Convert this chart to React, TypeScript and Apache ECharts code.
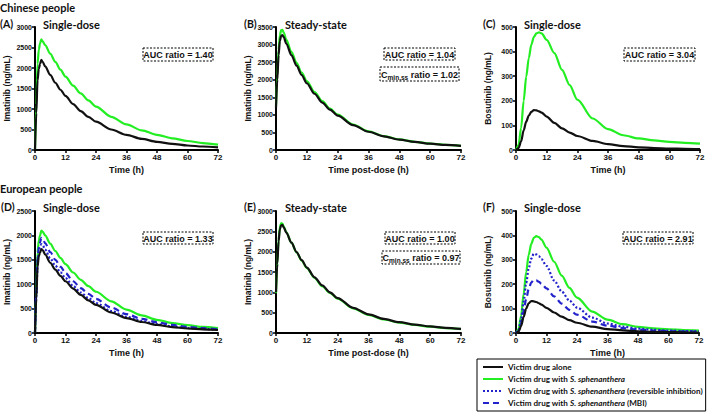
import React, { useEffect, useRef } from "react";
import * as echarts from "echarts";

// ---- data ----
const T_IMA = [0, 0.5, 1, 1.5, 2, 2.5, 3, 4, 6, 8, 10, 12, 15, 18, 21, 24, 30, 36, 42, 48, 54, 60, 66, 72];
const T_BOS = [0, 1, 2, 3, 4, 5, 6, 7, 8, 9, 10, 12, 15, 18, 21, 24, 30, 36, 42, 48, 54, 60, 66, 72];
const X_TICKS = [0, 12, 24, 36, 48, 60, 72];

const S_ALONE = "Victim drug alone";
const S_WITH = "Victim drug with S. sphenanthera";
const S_REV = "Victim drug with S. sphenanthera (reversible inhibition)";
const S_MBI = "Victim drug with S. sphenanthera (MBI)";

// (A) Chinese, imatinib single-dose
const A_with = [0, 1100, 2100, 2450, 2600, 2700, 2650, 2560, 2350, 2150, 1960, 1790, 1570, 1380, 1210, 1060, 810, 625, 480, 370, 285, 220, 170, 130];
const A_alone = [0, 900, 1700, 1980, 2100, 2200, 2150, 2040, 1830, 1640, 1470, 1320, 1120, 950, 810, 690, 500, 370, 270, 200, 150, 110, 85, 65];
// (B) Chinese, imatinib steady-state
const B_with = [1250, 2100, 2850, 3260, 3410, 3420, 3340, 3140, 2790, 2480, 2200, 1960, 1650, 1390, 1180, 1005, 725, 530, 395, 300, 233, 183, 147, 117];
const B_alone = [1200, 2000, 2700, 3100, 3250, 3270, 3210, 3030, 2700, 2400, 2130, 1900, 1600, 1350, 1150, 980, 710, 520, 390, 295, 230, 180, 145, 115];
// (C) Chinese, bosutinib single-dose
const C_with = [0, 20, 90, 200, 298, 373, 428, 460, 474, 478, 474, 448, 394, 326, 264, 205, 128, 85, 60, 47, 39, 33, 29, 26];
const C_alone = [0, 8, 35, 80, 115, 140, 155, 162, 161, 157, 152, 136, 110, 88, 71, 57, 37, 24, 16, 11, 8, 6, 5, 4];
// (D) European, imatinib single-dose
const D_with = [0, 850, 1650, 1900, 2000, 2100, 2080, 2000, 1830, 1680, 1540, 1410, 1240, 1090, 960, 845, 650, 480, 360, 270, 205, 160, 125, 100];
const D_rev = [0, 740, 1430, 1670, 1750, 1820, 1800, 1710, 1530, 1380, 1245, 1125, 965, 830, 715, 615, 450, 330, 245, 180, 135, 102, 82, 68];
const D_mbi = [0, 790, 1520, 1760, 1860, 1950, 1930, 1840, 1660, 1500, 1360, 1230, 1060, 920, 800, 700, 520, 385, 290, 220, 165, 125, 100, 80];
const D_alone = [0, 700, 1350, 1580, 1650, 1720, 1700, 1610, 1440, 1300, 1170, 1060, 910, 780, 670, 576, 420, 305, 225, 165, 122, 92, 75, 62];
// (E) European, imatinib steady-state
const E_with = [980, 1720, 2290, 2600, 2700, 2690, 2620, 2480, 2220, 1985, 1780, 1595, 1355, 1150, 985, 845, 605, 445, 332, 255, 198, 155, 122, 95];
const E_alone = [1000, 1700, 2250, 2550, 2650, 2660, 2600, 2470, 2220, 1990, 1790, 1610, 1370, 1170, 1000, 860, 620, 460, 345, 265, 205, 162, 128, 100];
// (F) European, bosutinib single-dose
const F_with = [0, 15, 70, 160, 250, 320, 365, 390, 397, 393, 383, 350, 292, 235, 185, 145, 88, 55, 36, 25, 19, 15, 12, 10];
const F_rev = [0, 12, 55, 130, 205, 265, 305, 325, 322, 315, 303, 275, 215, 170, 133, 104, 63, 39, 26, 18, 13, 10, 8, 7];
const F_mbi = [0, 8, 38, 90, 140, 180, 207, 218, 216, 210, 202, 183, 150, 120, 95, 75, 47, 30, 20, 14, 10, 8, 6, 5];
const F_alone = [0, 6, 28, 65, 100, 122, 131, 130, 127, 122, 116, 103, 84, 67, 53, 42, 26, 16, 11, 7, 5, 4, 3, 2];

const Y_MAX = [3000, 3500, 500, 2500, 3000, 500];
const Y_STEP = [500, 500, 100, 500, 500, 100];
const Y_NAMES = ["Imatinib (ng/mL)", "Imatinib (ng/mL)", "Bosutinib (ng/mL)", "Imatinib (ng/mL)", "Imatinib (ng/mL)", "Bosutinib (ng/mL)"];
const X_NAMES = ["Time (h)", "Time post-dose (h)", "Time (h)", "Time (h)", "Time post-dose (h)", "Time (h)"];
const PANEL_LETTERS = ["(A)", "(B)", "(C)", "(D)", "(E)", "(F)"];
const PANEL_TITLES = ["Single-dose", "Steady-state", "Single-dose", "Single-dose", "Steady-state", "Single-dose"];
const ROW_TITLES = ["Chinese people", "European people"];
const AUC_RATIOS = ["1.40", "1.04", "3.04", "1.33", "1.00", "2.91"];
const CMIN_RATIOS: (string | null)[] = [null, "1.02", null, null, "0.97", null];

// ---- layout / styles ----
const GRIDS = [
  { left: 35, top: 27, width: 183, height: 123 },
  { left: 276, top: 27, width: 185, height: 123 },
  { left: 516, top: 27, width: 184, height: 123 },
  { left: 35, top: 211, width: 183, height: 122 },
  { left: 276, top: 211, width: 185, height: 122 },
  { left: 516, top: 211, width: 183, height: 122 },
];
const LETTER_POS = [[0, 24], [244, 24], [483, 24], [1, 207], [244, 207], [483, 207]];
const TITLE_POS = [[43, 24], [285, 24], [524, 24], [43, 207], [285, 207], [524, 207]];
const ROW_POS = [[0, 7], [0, 188]];
const AUC_BOX = [[143, 48, 70, 13], [384, 48, 71, 12], [624, 48, 71, 13], [143, 232, 70, 12], [385, 232, 70, 12], [623, 232, 70, 12]];
const CMIN_BOX = [null, [380, 67, 79, 14], null, null, [382, 251, 78, 13], null];

const FONT_T = "Lato, 'Open Sans', sans-serif";
const FONT_A = "'Liberation Sans', Arial, sans-serif";
const INK = "#111";

const STYLE: Record<string, any> = {
  [S_ALONE]: { color: "#111111", type: "solid" },
  [S_WITH]: { color: "#22ee22", type: "solid" },
  [S_REV]: { color: "#2323cc", type: [2, 2] },
  [S_MBI]: { color: "#2323cc", type: [6, 4] },
};

const PANEL_SERIES: [string, number[]][][] = [
  [[S_WITH, A_with], [S_ALONE, A_alone]],
  [[S_WITH, B_with], [S_ALONE, B_alone]],
  [[S_WITH, C_with], [S_ALONE, C_alone]],
  [[S_WITH, D_with], [S_REV, D_rev], [S_MBI, D_mbi], [S_ALONE, D_alone]],
  [[S_WITH, E_with], [S_ALONE, E_alone]],
  [[S_WITH, F_with], [S_REV, F_rev], [S_MBI, F_mbi], [S_ALONE, F_alone]],
];
const PANEL_TIMES = [T_IMA, T_IMA, T_BOS, T_IMA, T_IMA, T_BOS];

function buildOption() {
  const grid = GRIDS.map((g) => ({ ...g, containLabel: false }));
  const xAxis = GRIDS.map((_, i) => ({
    type: "value",
    gridIndex: i,
    min: X_TICKS[0],
    max: X_TICKS[X_TICKS.length - 1],
    interval: X_TICKS[1] - X_TICKS[0],
    name: X_NAMES[i],
    nameLocation: "middle",
    nameGap: 15,
    nameTextStyle: { fontFamily: FONT_A, fontWeight: "bold", fontSize: 9, color: INK },
    axisLine: { show: true, onZero: false, lineStyle: { color: "#000", width: 2 } },
    axisTick: { show: true, length: 3, lineStyle: { color: "#000", width: 1.5 } },
    axisLabel: { fontFamily: FONT_A, fontWeight: "bold", fontSize: 8, color: INK, margin: 3, formatter: (v: number) => String(v) },
    splitLine: { show: false },
  }));
  const yAxis = GRIDS.map((_, i) => ({
    type: "value",
    gridIndex: i,
    min: 0,
    max: Y_MAX[i],
    interval: Y_STEP[i],
    name: Y_NAMES[i],
    nameLocation: "middle",
    nameRotate: 90,
    nameGap: 24,
    nameTextStyle: { fontFamily: FONT_A, fontWeight: "bold", fontSize: 8.5, color: INK },
    axisLine: { show: true, lineStyle: { color: "#000", width: 2 } },
    axisTick: { show: true, length: 3, lineStyle: { color: "#000", width: 1.5 } },
    axisLabel: { fontFamily: FONT_A, fontWeight: "bold", fontSize: 7, color: INK, margin: 3, formatter: (v: number) => String(v) },
    splitLine: { show: false },
  }));
  const series: any[] = [];
  PANEL_SERIES.forEach((list, i) => {
    const times = PANEL_TIMES[i];
    list.forEach(([name, vals]) => {
      series.push({
        type: "line",
        name,
        xAxisIndex: i,
        yAxisIndex: i,
        data: times.map((t, k) => [t, vals[k]]),
        symbol: "none",
        smooth: 0.3,
        smoothMonotone: "x",
        lineStyle: { width: 2.2, color: STYLE[name].color, type: STYLE[name].type },
        itemStyle: { color: STYLE[name].color },
        silent: true,
      });
    });
  });

  const graphic: any[] = [];
  const txt = (text: string, x: number, y: number, size = 11, family = FONT_T) => ({
    type: "text",
    x,
    y,
    style: { text, fill: INK, fontFamily: family, fontWeight: "bold", fontSize: size, textVerticalAlign: "middle" },
  });
  ROW_TITLES.forEach((t, i) => graphic.push(txt(t, ROW_POS[i][0], ROW_POS[i][1], 11)));
  PANEL_LETTERS.forEach((t, i) => graphic.push(txt(t, LETTER_POS[i][0], LETTER_POS[i][1], 10.5)));
  PANEL_TITLES.forEach((t, i) => graphic.push(txt(t, TITLE_POS[i][0], TITLE_POS[i][1], 11)));
  const box = (b: number[]) => ({
    type: "rect",
    shape: { x: b[0], y: b[1], width: b[2], height: b[3] },
    style: { fill: "#fff", stroke: "#000", lineWidth: 1, lineDash: [2, 1.5] },
    z: 50,
  });
  AUC_RATIOS.forEach((r, i) => {
    const b = AUC_BOX[i];
    graphic.push(box(b));
    graphic.push({
      type: "text",
      x: b[0] + b[2] / 2,
      y: b[1] + b[3] / 2 + 0.5,
      z: 51,
      style: {
        text: `AUC ratio = ${r}`,
        fill: INK,
        fontFamily: FONT_A,
        fontWeight: "bold",
        fontSize: 9,
        textAlign: "center",
        textVerticalAlign: "middle",
      },
    });
    const c = CMIN_BOX[i];
    const cr = CMIN_RATIOS[i];
    if (c && cr) {
      graphic.push(box(c));
      graphic.push({
        type: "text",
        x: c[0] + c[2] / 2,
        y: c[1] + c[3] / 2 + 0.5,
        z: 51,
        style: {
          text: `{b|C}{s|min,ss}{b| ratio = ${cr}}`,
          textAlign: "center",
          textVerticalAlign: "middle",
          rich: {
            b: { fontFamily: FONT_A, fontWeight: "bold", fontSize: 9, fill: INK, color: INK, lineHeight: 12, verticalAlign: "middle" },
            s: { fontFamily: FONT_A, fontWeight: "bold", fontSize: 6.5, fill: INK, color: INK, verticalAlign: "bottom", lineHeight: 7 },
          },
        },
      });
    }
  });

  return {
    animation: false,
    backgroundColor: "#fff",
    grid,
    xAxis,
    yAxis,
    series,
    graphic,
    legend: {
      data: [S_ALONE, S_WITH, S_REV, S_MBI],
      orient: "vertical",
      left: 477,
      top: 359,
      padding: [3, 3, 3, 5],
      backgroundColor: "#fff",
      borderColor: "#000",
      borderWidth: 1,
      itemWidth: 20,
      itemHeight: 10,
      itemGap: 2,
      selectedMode: false,
      itemStyle: { opacity: 0, borderWidth: 0 },
      formatter: (n: string) => n.replace("S. sphenanthera", "{i|S. sphenanthera}").replace(/^Victim/, "{n|Victim}"),
      textStyle: {
        fontFamily: FONT_T,
        fontWeight: "bold",
        fontSize: 8.1,
        lineHeight: 10,
        color: INK,
        rich: {
          i: { fontFamily: FONT_T, fontWeight: "bold", fontStyle: "italic", fontSize: 8.1, lineHeight: 10, color: INK },
          n: { fontFamily: FONT_T, fontWeight: "bold", fontSize: 8.1, lineHeight: 10, color: INK },
        },
      },
    },
  };
}

export default function App() {
  const ref = useRef<HTMLDivElement>(null);
  useEffect(() => {
    if (!ref.current) return;
    const chart = echarts.init(ref.current, null, { renderer: "svg" });
    chart.setOption(buildOption() as any);
    return () => chart.dispose();
  }, []);
  return (
    <div
      ref={ref}
      style={{ position: "absolute", left: 0, top: 0, width: 709, height: 414, background: "#fff" }}
    />
  );
}
